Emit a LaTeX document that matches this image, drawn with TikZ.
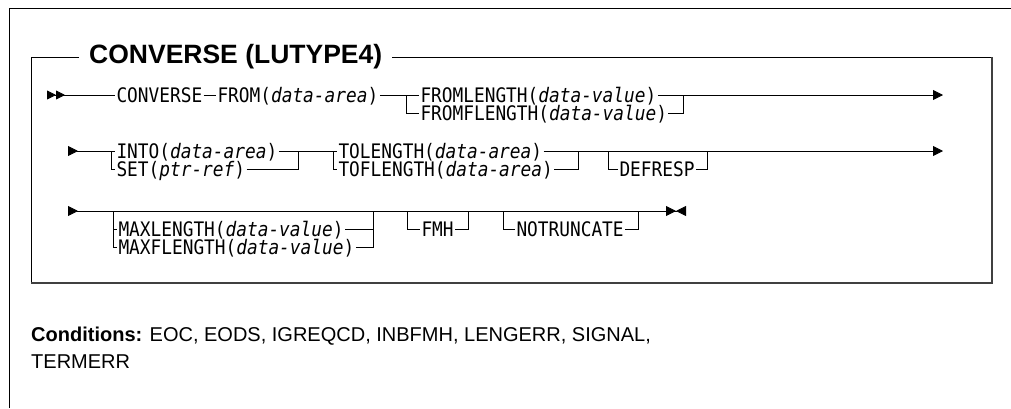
\documentclass[tikz,border=0pt]{standalone}
\usepackage{fontspec}
\setmainfont{Liberation Sans}
\newfontfamily\synfont[FakeStretch=0.89,ItalicFont={DejaVu Sans Mono Oblique}]{DejaVu Sans Mono}
\usepackage{tikz}
\usetikzlibrary{arrows.meta, positioning}
\tikzset{
	rail/.style={
		line width=0.8pt,
	},
	edgebox/.style={
		line width=2pt,
		draw=black!75,
	},
	kw/.append style={
		anchor=west,
		font={\synfont\fontsize{20}{21}\selectfont},
		text height=14.6pt,
		text depth=0pt,
		inner xsep=1.5pt,
		inner ysep=0pt,
		outer sep=0pt,
	},
	alt/.style={
		below=3.9pt of #1.south west,
		anchor=north west,
	},
	ttl/.append style={
		font={\bfseries\fontsize{26.5}{28}\selectfont},
		inner xsep=10pt,
	},
	bgn/.style={
		{Triangle[reversed,length=10pt,width=10pt]}-,
	},
	bgnn/.style={
		{Triangle[reversed,length=9pt,width=9pt,sep=0pt]Triangle[reversed,length=9pt,width=9pt]}-,
	},
	cont/.style={
		-{Triangle[length=10pt,width=10pt]},
	},
	bgnstop/.style={
		{Triangle[reversed,length=10pt,width=10pt]}-{Triangle[length=10pt,width=10pt,sep=0pt]Triangle[reversed,length=10pt,width=10pt]},
	},
}

\begin{document}
\begin{tikzpicture}[x=1pt,y=-1pt]
\useasboundingbox (0,0) rectangle (1011,408);

% outer frame
\draw[rail] (9,408) -- (9,8) -- (1011,8);

% inner box with title
\node(ttl)[ttl, anchor=west] at (79,57) {CONVERSE (LUTYPE4)};
\draw[rail] (ttl.west) -- (31,57) -- (31,283);
\draw[rail] (ttl.east) -- (992,57);
\draw[edgebox] (992,57) -- (992,283) -- (31,283);

% first line
\coordinate(r1s) at (47,95);
\node(conv)[kw] at (115,95) {CONVERSE};
\node(from)[kw] at (216,95) {FROM(\textit{data-area})};
\coordinate(j1a) at (406,95);
\node(froml)[kw] at (419,95) {FROMLENGTH(\textit{data-value})};
\node(fromf)[kw, alt=froml] {FROMFLENGTH(\textit{data-value})};
\coordinate(j1b) at (683,95);
\coordinate(r1e) at (943,95);

\draw[rail, bgnn] (r1s) -- (conv);
\draw[rail] (conv) -- (from);
\draw[rail] (from) -- (froml);
\draw[rail] (j1a) |- (fromf);
\draw[rail, cont] (froml) -- (r1e);
\draw[rail] (fromf) -| (j1b);

% second line
\coordinate(r2s) at (68,151);
\coordinate(j2a) at (111,151);
\node(into)[kw] at (115,151) {INTO(\textit{data-area})};
\node(setp)[kw, alt=into] {SET(\textit{ptr-ref})};
\coordinate(j2b) at (298,151);
\coordinate(j2c) at (333,151);
\node(tol)[kw] at (337,151) {TOLENGTH(\textit{data-area})};
\node(tofl)[kw, alt=tol] {TOFLENGTH(\textit{data-area})};
\coordinate(j2d) at (578,151);
\coordinate(d2a) at (608,151);
\node(defr)[kw] at (618,169) {DEFRESP};
\coordinate(d2b) at (707,151);
\coordinate(r2e) at (943,151);

\draw[rail, bgn] (r2s) -- (into);
\draw[rail] (j2a) |- (setp);
\draw[rail] (into) -- (tol);
\draw[rail] (setp) -| (j2b);
\draw[rail] (j2c) |- (tofl);
\draw[rail] (tofl) -| (j2d);
\draw[rail, cont] (tol) -- (r2e);
\draw[rail] (d2a) |- (defr);
\draw[rail] (defr) -| (d2b);

% third line
\coordinate(r3s) at (68,211);
\coordinate(j3a) at (113,211);
\node(maxl)[kw] at (117,229) {MAXLENGTH(\textit{data-value})};
\node(maxf)[kw, alt=maxl] {MAXFLENGTH(\textit{data-value})};
\coordinate(j3b) at (373,211);
\coordinate(f3a) at (407,211);
\node(fmh)[kw] at (420,229) {FMH};
\coordinate(f3b) at (468,211);
\coordinate(n3a) at (503,211);
\node(notr)[kw] at (515,229) {NOTRUNCATE};
\coordinate(n3b) at (638,211);
\coordinate(r3e) at (686,211);

\draw[rail, bgnstop] (r3s) -- (r3e);
\draw[rail] (j3a) |- (maxl);
\draw[rail] (j3a) |- (maxf);
\draw[rail] (maxl) -| (j3b);
\draw[rail] (maxf) -| (j3b);
\draw[rail] (f3a) |- (fmh);
\draw[rail] (fmh) -| (f3b);
\draw[rail] (n3a) |- (notr);
\draw[rail] (notr) -| (n3b);

% conditions
\node(cond)[anchor=base west, align=left, inner sep=0pt,
	font={\fontsize{20}{27}\selectfont}] at (31,368)
	{\textbf{Conditions:} EOC, EODS, IGREQCD, INBFMH, LENGERR, SIGNAL,\\TERMERR};

\end{tikzpicture}
\end{document}
